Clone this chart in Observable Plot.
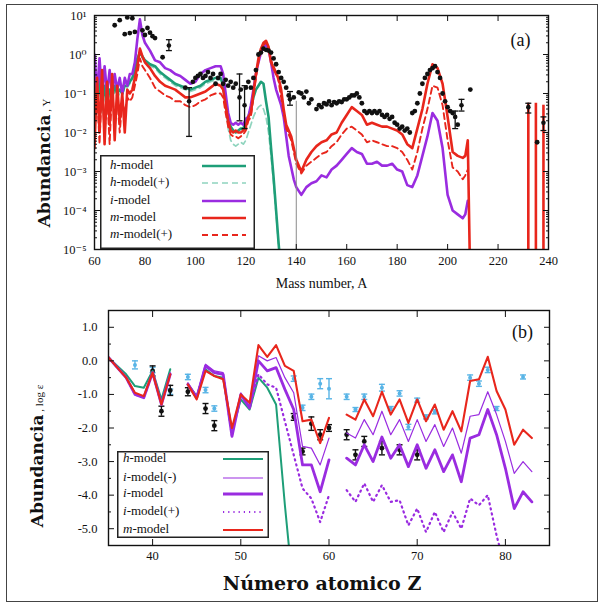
<!DOCTYPE html>
<html>
<head>
<meta charset="utf-8">
<script src="https://cdn.jsdelivr.net/npm/d3@7"></script>
<script src="https://cdn.jsdelivr.net/npm/@observablehq/plot@0.6"></script>
<style>
  body { margin: 0; background: #fff; }
  #fig { position: relative; width: 598px; height: 603px; overflow: hidden; background: #fff;
         font-family: "Liberation Serif", "DejaVu Serif", serif; color: #111; }
  #fig > svg, #fig .panel svg { display: block; }
  .panel { position: absolute; left: 0; }
  .outer { position: absolute; left: 6px; top: 4px; width: 592px; height: 598px;
           border: 1.5px solid #444; box-sizing: border-box; pointer-events: none; }
  .ylab { position: absolute; white-space: nowrap; transform: translate(-50%, -50%) rotate(-90deg); }
  .ylab b { font-family: "DejaVu Serif", serif; font-size: 17px; }
  .ylab span { font-size: 11px; }
  .legend { position: absolute; }
</style>
</head>
<body>
<div id="fig">
  <div class="outer"></div>
  <div class="panel" id="panelA" style="top:0"></div>
  <div class="panel" id="panelB" style="top:300px"></div>
  <div class="ylab" style="left:44px; top:163px"><b>Abundancia</b><span> , Y</span></div>
  <div class="ylab" style="left:37px; top:456px"><b>Abundancia</b><span> , log ε</span></div>
</div>
<script>
// ---------- panel (a): abundance vs mass number (log10 of Y) ----------
const massA = [60,61,62,63,64,65,66,67,68,69,70,71,72,73,74,75,76,77,78,79,80,
  82,84,86,88,90,92,94,96,98,100,102,104,106,108,
  110,111,112,113,114,115,116,117,118,119,120,121,122,123,124,125,126,127,128,129,130,131,132,133,134,135,136,137,138,139,140,
  142,144,146,148,150,152,154,156,158,160,162,164,166,168,170,172,174,176,178,180,182,184,186,188,190,192,194,196,198,200,202,204,206,
  207,208,209];

const hModelA = [-0.7,-1.3,-0.6,-1.4,-0.8,-1.2,-0.9,-1.1,-0.8,-1.0,-0.9,-1.0,-0.8,-0.8,-0.7,-0.6,-0.4,-0.1,0.05,-0.05,-0.15,
  -0.25,-0.3,-0.45,-0.55,-0.65,-0.75,-0.8,-0.85,-0.9,-0.85,-0.8,-0.7,-0.65,-0.6,
  -0.6,-0.75,-1.2,-1.65,-1.85,-1.95,-2.0,-1.95,-1.9,-1.9,-1.75,-1.6,-1.4,-1.1,-0.9,-0.8,-0.7,-0.75,-1.2,-1.6,-2.4,-3.15,-4.0,-4.85,-5.6,null,null,null,null,null,null];

const hModelPlusA = [-0.8,-1.4,-0.7,-1.5,-0.9,-1.3,-1.0,-1.2,-0.9,-1.1,-1.0,-1.05,-0.85,-0.85,-0.75,-0.65,-0.45,-0.15,0.0,-0.1,-0.2,
  -0.3,-0.35,-0.5,-0.6,-0.7,-0.8,-0.85,-0.9,-0.95,-0.9,-0.85,-0.75,-0.7,-0.65,
  -0.65,-0.85,-1.4,-1.9,-2.2,-2.3,-2.35,-2.3,-2.25,-2.3,-2.2,-2.0,-1.8,-1.6,-1.45,-1.35,-1.3,-1.4,-1.6,-2.0,-2.6,-3.3,-4.1,-4.9,-5.6,null,null,null,null,null,null];

const iModelA = [0.0,-1.0,-0.1,-1.1,-0.3,-1.0,-0.4,-1.0,-0.5,-0.9,-0.6,-1.0,-0.6,-0.8,-0.5,-0.5,-0.2,0.4,0.9,0.5,0.3,
  0.1,-0.15,-0.2,-0.35,-0.4,-0.5,-0.55,-0.65,-0.75,-0.7,-0.5,-0.4,-0.35,-0.3,
  -0.3,-0.5,-1.0,-1.5,-1.75,-1.8,-1.75,-1.8,-1.75,-1.8,-1.65,-1.6,-1.3,-0.9,-0.5,-0.2,0.05,0.2,0.25,0.15,-0.2,-0.6,-0.9,-1.1,-1.3,-1.6,-2.1,-2.6,-2.9,-3.2,-3.4,
  -3.6,-3.4,-3.3,-3.25,-3.1,-3.15,-2.95,-2.85,-2.7,-2.55,-2.4,-2.5,-2.55,-2.8,-2.8,-2.75,-2.85,-2.85,-2.8,-2.95,-3.0,-3.35,-3.4,-3.1,-2.6,-2.1,-1.5,-1.7,-2.4,-3.6,-4.0,-4.1,-4.2,
  -4.1,-3.75,null];

const mModelA = [-2.4,-0.6,-2.0,-0.4,-2.3,-0.7,-1.8,-0.5,-2.2,-0.8,-1.7,-1.0,-2.0,-0.9,-1.0,-0.9,-0.6,-0.3,0.15,-0.05,-0.2,
  -0.35,-0.55,-0.7,-0.8,-0.85,-0.9,-1.0,-1.1,-1.1,-1.05,-1.0,-0.95,-0.85,-0.75,
  -0.8,-0.9,-1.3,-1.7,-1.95,-2.0,-1.95,-2.0,-2.0,-1.95,-1.85,-1.6,-1.5,-1.0,-0.5,-0.1,0.15,0.3,0.35,0.2,-0.2,-0.35,-0.5,-0.6,-0.9,-1.4,-1.8,-1.95,-2.1,-2.4,-2.7,
  -3.0,-2.7,-2.5,-2.35,-2.25,-2.2,-2.05,-2.0,-1.75,-1.55,-1.35,-1.45,-1.55,-1.8,-1.75,-1.8,-1.85,-1.85,-1.9,-1.95,-2.05,-2.3,-2.4,-1.9,-1.4,-0.75,-0.25,-0.35,-0.75,-1.6,-2.5,-2.6,-2.65,
  -2.6,-2.2,-6.0];

const mModelPlusA = [-2.0,-0.9,-2.3,-0.6,-2.1,-1.0,-2.3,-0.8,-1.9,-1.1,-2.0,-1.2,-1.5,-1.1,-1.2,-1.1,-0.8,-0.5,-0.1,-0.3,-0.4,
  -0.6,-0.85,-0.95,-1.05,-1.1,-1.2,-1.2,-1.3,-1.35,-1.3,-1.2,-1.15,-1.05,-1.0,
  -1.0,-1.1,-1.5,-1.85,-2.05,-2.1,-2.1,-2.15,-2.1,-2.05,-1.95,-1.7,-1.6,-1.1,-0.6,-0.2,0.1,0.25,0.3,0.15,-0.15,-0.3,-0.45,-0.7,-1.1,-1.5,-1.9,-2.05,-2.2,-2.5,-2.8,
  -3.05,-2.85,-2.75,-2.65,-2.55,-2.5,-2.35,-2.25,-2.05,-1.9,-1.85,-1.95,-2.05,-2.25,-2.2,-2.25,-2.3,-2.35,-2.35,-2.4,-2.5,-2.7,-2.95,-2.5,-1.9,-1.4,-0.8,-0.85,-1.3,-2.2,-2.9,-3.0,-3.2,
  -3.1,-2.95,null];

// actinide spikes of the m-model
const spikeA = [232, 235, 238];
const spikeTopA = [-1.25, -1.25, -1.3];

// observed abundances (log10 Y)
const obsA = [68,70,72,73,74,75,76,79,80,81,82,83,84,87,
  96,99,100,101,102,103,104,105,106,107,108,109,110,111,112,113,114,115,116,118,120,121,122,123,124,
  125,126,127,128,129,130,131,132,133,134,135,136,137,139,141,142,143,144,145,146,148,149,150,
  151,152,153,154,155,156,157,158,159,160,161,162,163,164,165,166,167,168,169,170,171,172,173,174,175,
  176,177,178,179,180,181,182,183,184,185,186,187,188,189,190,191,192,193,194,195,196,197,198,199,200,
  201,202,204,209,235.5];
const obsLogY = [0.75,0.88,0.52,0.95,0.55,0.93,0.58,0.62,0.5,0.68,0.56,0.47,0.42,-0.07,
  -0.85,-0.7,-0.6,-0.55,-0.5,-0.6,-0.55,-0.45,-0.6,-0.5,-0.75,-0.6,-0.5,-0.75,-0.65,-0.8,-0.7,-0.85,-0.75,-0.9,-0.85,-0.7,-0.85,-0.6,-0.4,
  0.0,0.05,0.15,0.12,0.1,0.05,-0.1,-0.25,-0.45,-0.6,-0.7,-0.85,-1.05,-1.1,-0.97,-1.0,-1.1,-0.95,-1.25,-1.15,-1.4,-1.3,-1.35,
  -1.25,-1.28,-1.2,-1.3,-1.22,-1.25,-1.2,-1.22,-1.15,-1.15,-1.1,-1.05,-1.05,-1.0,-1.1,-1.25,-1.45,-1.5,-1.45,-1.5,-1.45,-1.5,-1.45,-1.55,-1.6,
  -1.55,-1.65,-1.6,-1.75,-1.8,-1.9,-1.85,-1.95,-1.9,-2.0,-1.5,-1.45,-1.25,-1.0,-0.75,-0.6,-0.5,-0.4,-0.35,-0.3,-0.45,-0.6,-1.0,-1.2,-1.35,
  -1.45,-1.5,-1.8,-0.9,-2.25];
const errA    = [89.5, 97.5, 117.5, 119.5, 137.5, 203, 205.5, 232, 238];
const errMidA = [0.23, -1.2, -1.1, -1.3, -1.15, -1.6, -1.3, -1.35, -1.75];
const errLoA  = [0.1, -2.1, -1.7, -1.9, -1.3, -1.9, -1.45, -1.5, -1.95];
const errHiA  = [0.38, -0.85, -0.5, -0.8, -0.95, -1.45, -1.15, -1.25, -1.6];
const limitA = [140], limitTopA = [-1.2];

const xTicksA = [60, 80, 100, 120, 140, 160, 180, 200, 220, 240];
const yTicksA = [1e-5, 1e-4, 1e-3, 1e-2, 1e-1, 1, 10];

// ---------- panel (b): log eps vs atomic number ----------
const atomicZ = [35,36,37,38,39,40,41,42,43,44,45,46,47,48,49,50,51,52,53,54,55,56,57,58,59,60,61,62,63,64,65,66,67,68,69,70,71,72,73,74,75,76,77,78,79,80,81,82,83];
const hModelB = [0.1,-0.15,-0.4,-0.75,-0.8,-0.3,-1.15,-0.25,null,-0.7,-1.05,-0.25,-0.45,-0.5,-2.1,-1.15,-1.45,-0.5,-0.8,-1.3,-4.3,-7.0,
  null,null,null,null,null,null,null,null,null,null,null,null,null,null,null,null,null,null,null,null,null,null,null,null,null,null,null];
const iModelMinusB = [0.1,-0.2,-0.5,-1.0,-1.1,-0.35,-1.25,-0.35,null,-0.65,-1.05,-0.1,-0.3,-0.35,-2.2,-0.95,-1.35,0.15,0.0,0.1,-0.5,-0.95,-2.55,-2.6,-3.1,-2.3,
  null,-2.15,-2.3,-1.75,-2.2,-1.5,-2.2,-1.75,-2.4,-1.75,-2.4,-1.9,-2.55,-2.0,-2.75,-1.65,-1.6,-0.92,-1.6,-2.4,-3.35,-3.0,-3.3];
const iModelB = [0.1,-0.2,-0.5,-1.0,-1.1,-0.35,-1.3,-0.4,null,-0.7,-1.1,-0.15,-0.35,-0.4,-2.25,-1.0,-1.4,0.0,-0.3,-0.2,-0.85,-1.45,-3.1,-3.1,-3.9,-2.95,
  null,-2.9,-3.1,-2.5,-3.0,-2.27,-2.9,-2.5,-3.15,-2.5,-3.2,-2.65,-3.3,-2.8,-3.6,-2.3,-2.2,-1.45,-2.2,-3.2,-4.4,-3.9,-4.2];
const iModelPlusB = [0.1,-0.2,-0.5,-1.0,-1.1,-0.35,-1.3,-0.4,null,-0.7,-1.1,-0.15,-0.35,-0.4,-2.25,-1.0,-1.4,-0.4,-0.7,-0.8,-1.8,-2.8,-3.8,-4.1,-4.8,-4.0,
  null,-3.85,-4.2,-3.65,-4.2,-3.7,-4.2,-4.15,-4.9,-4.4,-5.1,-4.5,-5.1,-4.5,-5.0,-4.1,-4.3,-4.0,-5.2,-6.2,-7.0,null,null];
const mModelB = [0.1,-0.2,-0.5,-0.95,-1.05,-0.35,-1.3,-0.4,null,-0.7,-1.15,-0.3,-0.45,-0.55,-2.0,-1.0,-1.25,0.47,0.12,0.47,-0.15,-0.3,-1.8,-1.75,-2.45,-1.7,
  null,-1.6,-1.75,-1.15,-1.65,-0.92,-1.6,-1.15,-1.85,-1.15,-1.8,-1.3,-2.05,-1.5,-2.1,-0.6,-0.55,0.12,-0.9,-1.45,-2.5,-2.05,-2.3];

// star 1 (black) and star 2 (light blue) measurements
const starZ1   = [40, 41, 42, 44, 46, 47, 56, 57, 58, 59, 60, 62, 63, 64, 66, 68, 70];
const starEps1 = [-0.3, -1.5, -0.88, -0.92, -1.42, -1.93, -1.67, -2.7, -1.87, -2.2, -2.0, -2.2, -2.8, -2.4, -2.6, -2.65, -2.8];
const starErr1 = [0.15, 0.15, 0.15, 0.12, 0.15, 0.15, 0.1, 0.1, 0.2, 0.15, 0.1, 0.15, 0.15, 0.15, 0.2, 0.15, 0.15];
const starZ2   = [38, 40, 42, 44, 46, 47, 56, 57, 58, 59, 60, 62, 63, 64, 66, 67, 68, 69, 70, 71, 72, 76, 77, 78, 79, 82];
const starEps2 = [-0.12, -0.27, -0.92, -0.48, -0.87, -1.42, -0.53, -1.4, -1.07, -0.68, -0.83, -1.07, -1.45, -1.07, -0.8, -1.42, -0.97, -1.97, -1.17, -1.67, -1.52, -0.5, -0.68, -0.27, -1.42, -0.48];
const starErr2 = [0.12, 0.08, 0.08, 0.08, 0.08, 0.08, 0.08, 0.08, 0.08, 0.15, 0.3, 0.08, 0.06, 0.08, 0.1, 0.06, 0.08, 0.08, 0.06, 0.06, 0.06, 0.08, 0.08, 0.08, 0.06, 0.06];

const xTicksB = [40, 50, 60, 70, 80];
const yTicksB = [-5, -4, -3, -2, -1, 0, 1];
const yMinorB = [-5.5, -4.5, -3.5, -2.5, -1.5, -0.5, 0.5, 1.5];

// ---------- styling ----------
const red = "#e8261c", purple = "#9a2ce0", green = "#1e9e78", greenLight = "#8fd4be", sky = "#58b4e6";
const serif = "'Liberation Serif', 'DejaVu Serif', serif";

const rows = (xs, ys) => xs.map((x, i) => ({x, v: ys[i]}));
const pow10 = d => (d.v == null ? NaN : 10 ** d.v);
const capSymbol = { draw(ctx, size) { const w = Math.sqrt(size / Math.PI); ctx.moveTo(-w, 0); ctx.lineTo(w, 0); } };
const supMap = {"-": "\u207B", "0": "\u2070", "1": "\u00B9", "2": "\u00B2", "3": "\u00B3", "4": "\u2074", "5": "\u2075"};
const powLabel = d => "10" + String(Math.round(Math.log10(d))).split("").map(c => supMap[c]).join("");
const yMinorA = [];
for (const e of [-5, -4, -3, -2, -1, 0]) for (let k = 2; k <= 9; k++) yMinorA.push(k * 10 ** e);
const blank = () => "";

const obsRowsA = obsA.map((a, i) => ({a, v: obsLogY[i]}));
const errRowsA = errA.map((a, i) => ({a, mid: errMidA[i], lo: errLoA[i], hi: errHiA[i]}));

const plotA = Plot.plot({
  width: 598, height: 300,
  marginLeft: 94, marginRight: 50, marginTop: 15, marginBottom: 51,
  style: {fontFamily: serif, fontSize: "12.5px", color: "#111", background: "transparent"},
  x: {domain: [60, 240], label: null},
  y: {type: "log", domain: [1e-5, 10], label: null},
  marks: [
    Plot.line(rows(massA, hModelPlusA), {x: "x", y: pow10, stroke: greenLight, strokeWidth: 1.7, strokeDasharray: "6,4", clip: true}),
    Plot.line(rows(massA, hModelA), {x: "x", y: pow10, stroke: green, strokeWidth: 2.6, clip: true}),
    Plot.line(rows(massA, iModelA), {x: "x", y: pow10, stroke: purple, strokeWidth: 2.6, clip: true}),
    Plot.line(rows(massA, mModelPlusA), {x: "x", y: pow10, stroke: red, strokeWidth: 1.9, strokeDasharray: "6,4", clip: true}),
    Plot.line(rows(massA, mModelA), {x: "x", y: pow10, stroke: red, strokeWidth: 2.6, clip: true}),
    Plot.ruleX(spikeA.map((a, i) => ({a, v: spikeTopA[i]})), {x: "a", y1: 1e-5, y2: pow10, stroke: red, strokeWidth: 2.6}),
    Plot.ruleX(limitA.map((a, i) => ({a, v: limitTopA[i]})), {x: "a", y1: 1e-5, y2: pow10, stroke: "#8a8a8a", strokeWidth: 1}),
    Plot.ruleX(errRowsA, {x: "a", y1: d => 10 ** d.lo, y2: d => 10 ** d.hi, stroke: "#111", strokeWidth: 1.3}),
    Plot.dot(errRowsA, {x: "a", y: d => 10 ** d.lo, symbol: capSymbol, r: 3, stroke: "#111", strokeWidth: 1.3}),
    Plot.dot(errRowsA, {x: "a", y: d => 10 ** d.hi, symbol: capSymbol, r: 3, stroke: "#111", strokeWidth: 1.3}),
    Plot.dot(errRowsA, {x: "a", y: d => 10 ** d.mid, r: 2.3, fill: "#111"}),
    Plot.dot(obsRowsA, {x: "a", y: d => 10 ** d.v, r: 2.4, fill: "#111"}),
    Plot.frame({stroke: "#111", strokeWidth: 1.4}),
    Plot.axisX({anchor: "bottom", ticks: xTicksA, tickSize: -5, tickPadding: 12, label: null}),
    Plot.axisX({anchor: "top", ticks: xTicksA, tickSize: -5, tickFormat: blank, label: null}),
    Plot.axisY({anchor: "left", ticks: yTicksA, tickSize: -6, tickPadding: 14, tickFormat: powLabel, label: null}),
    Plot.axisY({anchor: "right", ticks: yTicksA, tickSize: -6, tickFormat: blank, label: null}),
    Plot.axisY({anchor: "left", ticks: yMinorA, tickSize: -3, tickFormat: blank, label: null}),
    Plot.axisY({anchor: "right", ticks: yMinorA, tickSize: -3, tickFormat: blank, label: null}),
    Plot.text(["(a)"], {frameAnchor: "top-right", dx: -28, dy: 25, textAnchor: "middle", lineAnchor: "middle", fontSize: 18}),
    Plot.text(["Mass number, A"], {frameAnchor: "bottom", dy: 34, lineAnchor: "middle", fontSize: 14})
  ]
});
document.getElementById("panelA").append(plotA);

const star1 = starZ1.map((z, i) => ({z, v: starEps1[i], e: starErr1[i]}));
const star2 = starZ2.map((z, i) => ({z, v: starEps2[i], e: starErr2[i]}));
const errMarks = (data, color, r) => [
  Plot.ruleX(data, {x: "z", y1: d => d.v - d.e, y2: d => d.v + d.e, stroke: color, strokeWidth: 1.4}),
  Plot.dot(data, {x: "z", y: d => d.v - d.e, symbol: capSymbol, r: 3, stroke: color, strokeWidth: 1.4}),
  Plot.dot(data, {x: "z", y: d => d.v + d.e, symbol: capSymbol, r: 3, stroke: color, strokeWidth: 1.4}),
  Plot.dot(data, {x: "z", y: "v", r, fill: color})
];

const plotB = Plot.plot({
  width: 598, height: 303,
  marginLeft: 108, marginRight: 49, marginTop: 10, marginBottom: 58,
  style: {fontFamily: serif, fontSize: "12.5px", color: "#111", background: "transparent"},
  x: {domain: [35, 85], label: null},
  y: {domain: [-5.5, 1.5], label: null},
  marks: [
    ...errMarks(star2, sky, 2),
    ...errMarks(star1, "#111", 2.4),
    Plot.line(rows(atomicZ, hModelB), {x: "x", y: "v", stroke: green, strokeWidth: 2, clip: true}),
    Plot.line(rows(atomicZ, iModelPlusB), {x: "x", y: "v", stroke: purple, strokeWidth: 2.2, strokeDasharray: "1.2,4", clip: true}),
    Plot.line(rows(atomicZ, iModelB), {x: "x", y: "v", stroke: purple, strokeWidth: 2.8, clip: true}),
    Plot.line(rows(atomicZ, iModelMinusB), {x: "x", y: "v", stroke: purple, strokeWidth: 1.2, clip: true}),
    Plot.line(rows(atomicZ, mModelB), {x: "x", y: "v", stroke: red, strokeWidth: 2.1, clip: true}),
    Plot.frame({stroke: "#111", strokeWidth: 1.4}),
    Plot.axisX({anchor: "bottom", ticks: xTicksB, tickSize: -6, tickPadding: 12, label: null}),
    Plot.axisX({anchor: "top", ticks: xTicksB, tickSize: -6, tickFormat: blank, label: null}),
    Plot.axisY({anchor: "left", ticks: yTicksB, tickSize: -6, tickPadding: 17, tickFormat: d => d.toFixed(1), label: null}),
    Plot.axisY({anchor: "right", ticks: yTicksB, tickSize: -6, tickFormat: blank, label: null}),
    Plot.axisY({anchor: "left", ticks: yMinorB, tickSize: -3, tickFormat: blank, label: null}),
    Plot.axisY({anchor: "right", ticks: yMinorB, tickSize: -3, tickFormat: blank, label: null}),
    Plot.text(["(b)"], {frameAnchor: "top-right", dx: -27, dy: 22, textAnchor: "middle", lineAnchor: "middle", fontSize: 18}),
    Plot.text(["Número atomico Z"], {frameAnchor: "bottom", dx: -7, dy: 38, lineAnchor: "middle", fontSize: 19, fontWeight: "bold", fontFamily: "'DejaVu Serif', serif"})
  ]
});
document.getElementById("panelB").append(plotB);

// ---------- legends drawn inside the frames ----------
function legend(left, top, width, height, textX, lineX1, lineX2, items) {
  const svg = d3.create("svg").attr("width", width).attr("height", height)
    .attr("class", "legend").style("left", left + "px").style("top", top + "px");
  svg.append("rect").attr("x", 0.75).attr("y", 0.75).attr("width", width - 1.5).attr("height", height - 1.5)
    .attr("fill", "#fff").attr("stroke", "#222").attr("stroke-width", 1.5);
  for (const it of items) {
    const t = svg.append("text").attr("x", textX).attr("y", it.y).attr("dominant-baseline", "middle")
      .attr("font-family", serif).attr("font-size", 13).attr("fill", "#111");
    t.append("tspan").attr("font-style", "italic").text(it.prefix);
    t.append("tspan").text(it.rest);
    svg.append("line").attr("x1", lineX1).attr("x2", lineX2).attr("y1", it.y).attr("y2", it.y)
      .attr("stroke", it.color).attr("stroke-width", it.width)
      .attr("stroke-dasharray", it.dash || null);
  }
  document.getElementById("fig").append(svg.node());
}

legend(100, 155, 155, 94, 10, 102, 146, [
  {y: 11, prefix: "h", rest: "-model", color: green, width: 2.6},
  {y: 28, prefix: "h", rest: "-model(+)", color: greenLight, width: 1.7, dash: "6,4"},
  {y: 46, prefix: "i", rest: "-model", color: purple, width: 2.6},
  {y: 63, prefix: "m", rest: "-model", color: red, width: 2.6},
  {y: 80, prefix: "m", rest: "-model(+)", color: red, width: 2, dash: "6,4"}
]);

legend(117, 451, 152, 87, 6, 106, 146, [
  {y: 8, prefix: "h", rest: "-model", color: green, width: 2},
  {y: 27, prefix: "i", rest: "-model(-)", color: purple, width: 1.2},
  {y: 43, prefix: "i", rest: "-model", color: purple, width: 3},
  {y: 61, prefix: "i", rest: "-model(+)", color: purple, width: 2.2, dash: "1.2,4"},
  {y: 79, prefix: "m", rest: "-model", color: red, width: 2}
]);
</script>
</body>
</html>
